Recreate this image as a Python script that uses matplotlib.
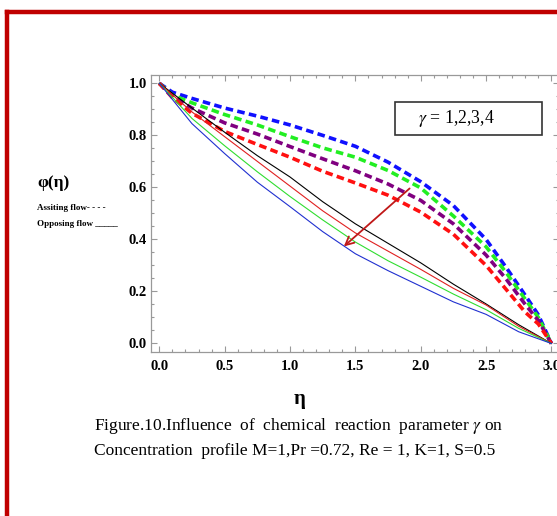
#!/usr/bin/env python3
"""Fig. 10: concentration profile phi(eta) for chemical reaction parameter gamma = 1..4."""
import matplotlib
matplotlib.use("Agg")
import matplotlib.pyplot as plt
from matplotlib.lines import Line2D
from matplotlib.patches import Rectangle
from matplotlib.ticker import MultipleLocator

plt.rcParams["font.family"] = ["Liberation Serif", "DejaVu Serif"]
plt.rcParams["mathtext.fontset"] = "stix"

# assisting flow (dashed), gamma = 1..4 top to bottom
ETA_A = [0, 0.1, 0.25, 0.5, 0.75, 1.0, 1.25, 1.5, 1.75, 2.0, 2.25, 2.5, 2.65, 2.8, 2.9, 3.0]
ASSIST_BLUE = [1.0, 0.966, 0.942, 0.905, 0.874, 0.840, 0.800, 0.758, 0.697, 0.622, 0.530, 0.400, 0.295, 0.185, 0.110, 0.0]
ASSIST_GREEN = [1.0, 0.955, 0.925, 0.880, 0.840, 0.795, 0.752, 0.716, 0.665, 0.598, 0.490, 0.372, 0.275, 0.170, 0.100, 0.0]
ASSIST_PURPLE = [1.0, 0.950, 0.905, 0.848, 0.805, 0.757, 0.710, 0.664, 0.613, 0.550, 0.460, 0.340, 0.250, 0.150, 0.088, 0.0]
ASSIST_RED = [1.0, 0.945, 0.885, 0.815, 0.765, 0.716, 0.662, 0.617, 0.570, 0.505, 0.420, 0.300, 0.210, 0.120, 0.075, 0.0]

# opposing flow (solid)
ETA_O = [0, 0.25, 0.5, 0.75, 1.0, 1.25, 1.5, 1.75, 2.0, 2.25, 2.5, 2.75, 3.0]
OPP_BLACK = [1.0, 0.905, 0.812, 0.722, 0.640, 0.545, 0.460, 0.385, 0.310, 0.228, 0.152, 0.072, 0.0]
OPP_RED = [1.0, 0.890, 0.795, 0.700, 0.605, 0.510, 0.425, 0.355, 0.285, 0.212, 0.148, 0.066, 0.0]
OPP_GREEN = [1.0, 0.865, 0.760, 0.660, 0.565, 0.475, 0.390, 0.318, 0.255, 0.190, 0.130, 0.058, 0.0]
OPP_BLUE = [1.0, 0.845, 0.730, 0.620, 0.526, 0.430, 0.345, 0.280, 0.220, 0.160, 0.112, 0.045, 0.0]

ASSIST = [(ASSIST_BLUE, "#1010ff"), (ASSIST_GREEN, "#22ee22"),
          (ASSIST_PURPLE, "#800080"), (ASSIST_RED, "#ff1010")]
OPPOSE = [(OPP_BLACK, "black"), (OPP_RED, "#e02020"),
          (OPP_GREEN, "#30dd30"), (OPP_BLUE, "#2030d0")]

FRAME = "#999999"

fig = plt.figure(figsize=(5.57, 5.16), dpi=100)
ax = fig.add_axes([151 / 557, 1 - 352 / 516, (559 - 151) / 557, (352 - 75) / 516])

for ys, col in ASSIST:
    ax.plot(ETA_A, ys, color=col, lw=2.6, ls=(0, (2.1, 1.2)), dash_capstyle="butt")
for ys, col in OPPOSE:
    ax.plot(ETA_O, ys, color=col, lw=0.8)

ax.set_xlim(-0.0635, 3.058)
ax.set_ylim(-0.0327, 1.032)
ax.xaxis.set_major_locator(MultipleLocator(0.5))
ax.xaxis.set_minor_locator(MultipleLocator(0.1))
ax.yaxis.set_major_locator(MultipleLocator(0.2))
ax.yaxis.set_minor_locator(MultipleLocator(0.05))
ax.tick_params(which="both", direction="in", top=True, right=True, color=FRAME, width=0.8)
ax.tick_params(which="major", length=4.5)
ax.tick_params(which="minor", length=2.5)
ax.tick_params(axis="x", pad=6)
ax.tick_params(axis="y", pad=3)
for lab in ax.get_xticklabels() + ax.get_yticklabels():
    lab.set_fontweight("bold")
    lab.set_fontsize(10.5)
for sp in ax.spines.values():
    sp.set_color(FRAME)
    sp.set_linewidth(0.9)

# arrow marking increasing gamma
ax.annotate("", xy=(1.396, 0.366), xytext=(1.931, 0.603),
            arrowprops=dict(arrowstyle="->,head_length=0.6,head_width=0.3",
                            color="#c01818", lw=1.3))

# gamma box
ax.add_patch(Rectangle((1.803, 0.802), 1.125, 0.127, fill=False,
                       ec="#333333", lw=1.2))
ax.text(2.27, 0.866, r"$\gamma$ = 1,2,3,4", fontsize=12.8, ha="center", va="center")

# side labels
fig.text(37 / 557, 1 - 183 / 516, "φ(η)", fontsize=12.5, fontweight="bold", va="center")
fig.text(37 / 557, 1 - 208 / 516, "Assiting flow- - - -", fontsize=6.5,
         fontweight="bold", va="center")
fig.text(37 / 557, 1 - 224 / 516, "Opposing flow _____", fontsize=6.5,
         fontweight="bold", va="center")
fig.text(300 / 557, 1 - 399 / 516, "η", fontsize=15, fontweight="bold",
         ha="center", va="center")

# caption
fig.text(94 / 557, 1 - 426 / 516,
         r"Figure.10.Influence  of  chemical  reaction  parameter $\gamma$ on",
         fontsize=12.5, va="center")
fig.text(94 / 557, 1 - 451 / 516,
         "Concentration  profile M=1,Pr =0.72, Re = 1, K=1, S=0.5",
         fontsize=12.5, va="center")

# red page frame
fig.add_artist(Line2D([6.5 / 557, 6.5 / 557], [0, 1 - 11.5 / 516],
                      color="#c00000", lw=3.2, transform=fig.transFigure))
fig.add_artist(Line2D([6.5 / 557, 1], [1 - 11.5 / 516, 1 - 11.5 / 516],
                      color="#c00000", lw=3.2, transform=fig.transFigure))

fig.savefig("out.png", dpi=100)
